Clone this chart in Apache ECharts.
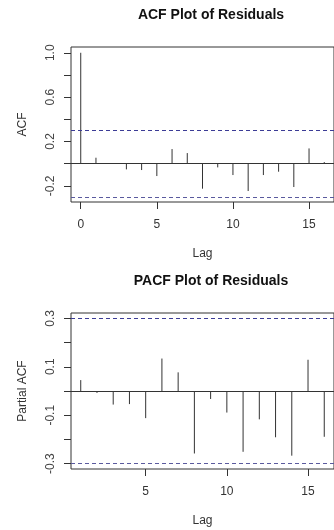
<!DOCTYPE html>
<html>
<head>
<meta charset="utf-8">
<script src="https://cdn.jsdelivr.net/npm/echarts@6/dist/echarts.min.js"></script>
<style>
  html, body { margin: 0; padding: 0; background: #fff; }
  #chart { width: 334px; height: 530px; }
</style>
</head>
<body>
<div id="chart"></div>
<script>
// values
const acfLags = [0, 1, 2, 3, 4, 5, 6, 7, 8, 9, 10, 11, 12, 13, 14, 15, 16];
const acfValues = [1.0, 0.054, 0.005, -0.051, -0.057, -0.111, 0.132, 0.096, -0.225, -0.033, -0.102, -0.246, -0.102, -0.072, -0.21, 0.138, 0.015];
const pacfLags = [1, 2, 3, 4, 5, 6, 7, 8, 9, 10, 11, 12, 13, 14, 15, 16];
const pacfValues = [0.045, -0.008, -0.056, -0.054, -0.112, 0.134, 0.077, -0.258, -0.033, -0.089, -0.251, -0.117, -0.191, -0.267, 0.129, -0.189];
const confBound = 0.297;

const acfXTicks = [0, 5, 10, 15];
const pacfXTicks = [5, 10, 15];
const acfYTicks = [-0.2, 0, 0.2, 0.4, 0.6, 0.8, 1.0];
const acfYLabels = [-0.2, 0.2, 0.6, 1.0];
const pacfYTicks = [-0.3, -0.2, -0.1, 0, 0.1, 0.2, 0.3];
const pacfYLabels = [-0.3, -0.1, 0.1, 0.3];

const FONT = '"Liberation Sans", Arial, sans-serif';
const INK = "#333";

const chart = echarts.init(document.getElementById("chart"), null, { renderer: "canvas" });

function xAxis(gridIndex, min, max, ticks) {
  return {
    type: "value", gridIndex, min, max,
    name: "Lag", nameLocation: "middle", nameGap: 46,
    nameTextStyle: { fontFamily: FONT, fontSize: 12, color: INK },
    axisLine: { show: false, onZero: false },
    splitLine: { show: false },
    axisTick: { show: true, customValues: ticks, length: 7, lineStyle: { color: INK } },
    axisLabel: { customValues: ticks, margin: 17, fontFamily: FONT, fontSize: 12, color: INK }
  };
}

function yAxis(gridIndex, min, max, name, ticks, labels) {
  return {
    type: "value", gridIndex, min, max,
    name, nameLocation: "middle", nameGap: 42,
    nameTextStyle: { fontFamily: FONT, fontSize: 12, color: INK },
    axisLine: { show: false, onZero: false },
    splitLine: { show: false },
    axisTick: { show: true, customValues: ticks, length: 7, lineStyle: { color: INK } },
    axisLabel: {
      customValues: labels, rotate: 90, margin: 14,
      fontFamily: FONT, fontSize: 12, color: "#444",
      formatter: (v) => v.toFixed(1)
    }
  };
}

function stems(index, lags, values) {
  return {
    type: "custom",
    xAxisIndex: index, yAxisIndex: index,
    data: lags.map((lag, i) => [lag, values[i]]),
    renderItem(params, api) {
      const base = api.coord([api.value(0), 0]);
      const tip = api.coord([api.value(0), api.value(1)]);
      return {
        type: "line",
        shape: { x1: base[0], y1: base[1], x2: tip[0], y2: tip[1] },
        style: { stroke: INK, lineWidth: 1 }
      };
    },
    markLine: {
      silent: true, symbol: "none", label: { show: false },
      data: [
        { yAxis: 0, lineStyle: { type: "solid", color: INK, width: 1 } },
        { yAxis: confBound, lineStyle: { type: [4, 3], color: "#3c3c96", width: 1 } },
        { yAxis: -confBound, lineStyle: { type: [4, 3], color: "#5a5a9e", width: 1 } }
      ]
    }
  };
}

chart.setOption({
  animation: false,
  backgroundColor: "#fff",
  title: [
    { text: "ACF Plot of Residuals", left: 206, top: 3, textAlign: "center",
      textStyle: { fontFamily: FONT, fontSize: 14, fontWeight: "bold", color: "#111" } },
    { text: "PACF Plot of Residuals", left: 206, top: 269, textAlign: "center",
      textStyle: { fontFamily: FONT, fontSize: 14, fontWeight: "bold", color: "#111" } }
  ],
  grid: [
    { left: 71, top: 47, width: 271, height: 155, show: true, borderColor: INK, borderWidth: 1, backgroundColor: "transparent" },
    { left: 71, top: 313, width: 271, height: 156, show: true, borderColor: INK, borderWidth: 1, backgroundColor: "transparent" }
  ],
  xAxis: [
    xAxis(0, -0.64, 16.64, acfXTicks),
    xAxis(1, 0.4, 16.6, pacfXTicks)
  ],
  yAxis: [
    yAxis(0, -0.345, 1.052, "ACF", acfYTicks, acfYLabels),
    yAxis(1, -0.322, 0.322, "Partial ACF", pacfYTicks, pacfYLabels)
  ],
  series: [
    stems(0, acfLags, acfValues),
    stems(1, pacfLags, pacfValues)
  ]
});
</script>
</body>
</html>
